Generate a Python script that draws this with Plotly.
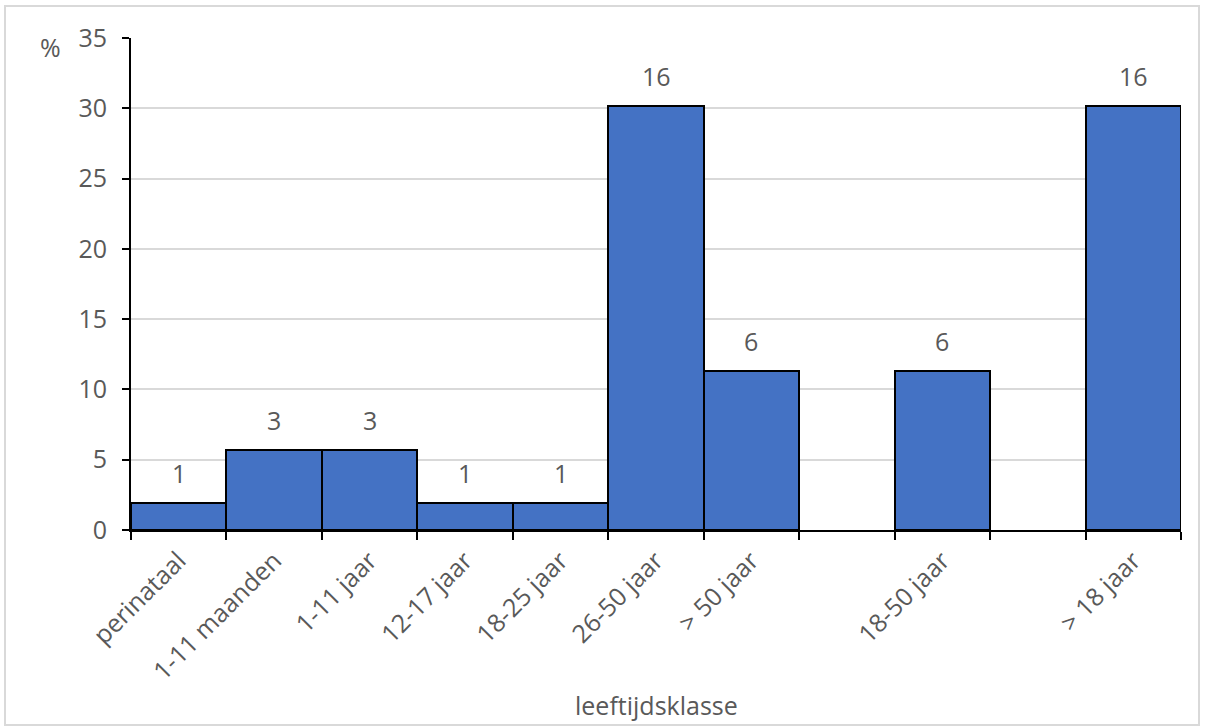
import plotly.graph_objects as go

# Age classes (blank slots separate the overlapping summary groups)
categories = ["perinataal", "1-11 maanden", "1-11 jaar", "12-17 jaar", "18-25 jaar",
              "26-50 jaar", "> 50 jaar", "", "18-50 jaar", "", "> 18 jaar"]
counts = [1, 3, 3, 1, 1, 16, 6, None, 6, None, 16]
y_ticks = [0, 5, 10, 15, 20, 25, 30, 35]

total = sum(c for c in counts if c is not None)

xs, pcts, labels = [], [], []
for i, c in enumerate(counts):
    if c is None:
        continue
    xs.append(i + 0.5)
    pcts.append(c / total * 100)
    labels.append(str(c))

W, H = 1208, 727
L, R, T, B = 131, 27, 38, 197
pw, ph = W - L - R, H - T - B

GREY = "#595959"
FONT = "Open Sans"
FS = 25

fig = go.Figure()
fig.add_trace(go.Bar(
    x=xs, y=pcts, width=1,
    marker=dict(color="#4472C4", line=dict(color="black", width=2)),
    hoverinfo="skip",
))

# count labels above each bar
for x, p, t in zip(xs, pcts, labels):
    fig.add_annotation(x=x, y=p, text=t, showarrow=False, yanchor="bottom",
                       yshift=11, font=dict(family=FONT, size=FS, color=GREY))

fig.add_annotation(xref="paper", yref="paper", x=(50 - L) / pw, y=(H - B - 47) / ph,
                   text="%", showarrow=False, xanchor="center", yanchor="middle",
                   font=dict(family=FONT, size=FS, color=GREY))
fig.add_annotation(xref="paper", yref="paper", x=0.5, y=-(705 - (H - B)) / ph,
                   text="leeftijdsklasse", showarrow=False, xanchor="center", yanchor="middle",
                   font=dict(family=FONT, size=FS, color=GREY))

# light outer frame of the chart area
fig.add_shape(type="rect", xref="paper", yref="paper",
              x0=(5 - L) / pw, x1=(1199 - L) / pw,
              y0=-(725 - (H - B)) / ph, y1=((H - B) - 6) / ph,
              line=dict(color="#D9D9D9", width=2), fillcolor="rgba(0,0,0,0)", layer="below")

fig.update_layout(
    width=W, height=H,
    margin=dict(l=L, r=R, t=T, b=B, autoexpand=False),
    paper_bgcolor="white", plot_bgcolor="white",
    bargap=0, showlegend=False,
    font=dict(family=FONT, size=FS, color=GREY),
)
fig.update_xaxes(
    range=[0, 11], tickmode="array",
    tickvals=[i + 0.5 for i in range(len(categories))], ticktext=categories,
    tickangle=-45, ticks="", showgrid=False, zeroline=False,
    showline=True, linecolor="black", linewidth=2,
    minor=dict(tickmode="array", tickvals=list(range(12)), ticks="outside",
               ticklen=8, tickwidth=2, tickcolor="black", showgrid=False),
    tickfont=dict(family=FONT, size=FS, color=GREY),
    ticklabelstandoff=4,
)
fig.update_yaxes(
    range=[0, 35], tickmode="array", tickvals=y_ticks,
    showgrid=True, gridcolor="#D9D9D9", gridwidth=2, zeroline=False,
    showline=True, linecolor="black", linewidth=2,
    ticks="outside", ticklen=7, tickwidth=2, tickcolor="black",
    tickfont=dict(family=FONT, size=FS, color=GREY),
    ticklabelstandoff=10,
)

fig.write_html("out.html")
